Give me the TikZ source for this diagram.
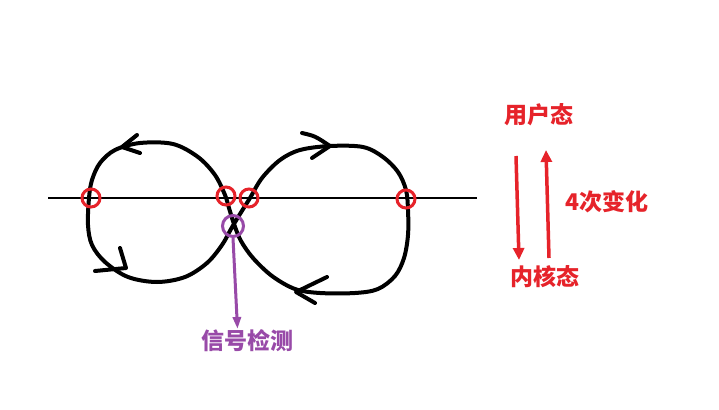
\documentclass[tikz,border=0pt]{standalone}
\usepackage{fontspec}
\newfontfamily\cjk{Noto Sans CJK SC}
\usetikzlibrary{arrows.meta}
\definecolor{rd}{RGB}{230,35,42}
\definecolor{pu}{RGB}{152,74,168}
\tikzset{
  curve/.style={line width=4pt, line cap=round, line join=round, black},
  tip/.style={line width=4pt, line cap=round, line join=round, black},
  mark0/.style={draw=rd, line width=3pt, circle, minimum size=18pt, inner sep=0pt},
  lab/.style={font=\cjk\bfseries\fontsize{23pt}{26pt}\selectfont, text=rd, inner sep=0pt},
  redarrow/.style={draw=rd, line width=3.5pt, -{Triangle[length=12pt,width=11pt]}},
}
\begin{document}
\begin{tikzpicture}[x=1pt,y=-1pt]
\useasboundingbox[fill=white] (0,0) rectangle (719,409);
% horizontal axis
\draw[line width=2.5pt] (48,198) -- (477,198);
% figure eight
\draw[curve] plot[smooth cycle, tension=0.55] coordinates {
(173,144) (140,143) (115,150) (100,163) (92,180) (89,198) (88,225) (92,245)
(105,262) (128,277) (157,282) (185,277) (207,263) (222,245) (231,229) (240,214)
(250,198) (262,178) (280,160) (300,150) (330,146) (363,147) (383,157) (398,172)
(406,190) (408,210) (408,235) (404,258) (395,276) (378,289) (355,293) (320,293)
(295,289) (272,276) (253,258) (241,241) (234,224) (229,208) (225,195) (215,175)
(198,157)};
% arrowheads on the curve
\draw[tip] (137,135) -- (122,147) -- (140,153);
\draw[tip] (95,271) -- (126,268) -- (120,248);
\draw[tip] (302,133) .. controls (315,136) .. (330,146) -- (312,158);
\draw[tip] (327,277) -- (296,292) -- (315,303);
% red crossing marks
\node[mark0] (c1) at (91,198) {};
\node[mark0] (c2) at (226,196) {};
\node[mark0] (c3) at (249,198) {};
\node[mark0] (c4) at (406,199) {};
% purple signal check
\node[draw=pu, line width=3pt, circle, minimum size=21pt, inner sep=0pt] (sig) at (233,226) {};
\node[font=\cjk\bfseries\fontsize{23pt}{26pt}\selectfont, text=pu, inner sep=0pt] (sigl) at (247,341) {信号检测};
\draw[pu, line width=3pt, -{Triangle[length=12pt,width=8pt]}] (sig.south) -- (237.5,329);
% right legend
\node[lab] (user) at (539,115) {用户态};
\node[lab] (kern) at (545,277) {内核态};
\node[lab] (four) at (607,202) {4次变化};
\coordinate (d1) at (516,156);
\coordinate (d2) at (519,260);
\coordinate (u1) at (549,258);
\coordinate (u2) at (546,150);
\draw[redarrow] (d1) -- (d2);
\draw[redarrow] (u1) -- (u2);
\end{tikzpicture}
\end{document}
